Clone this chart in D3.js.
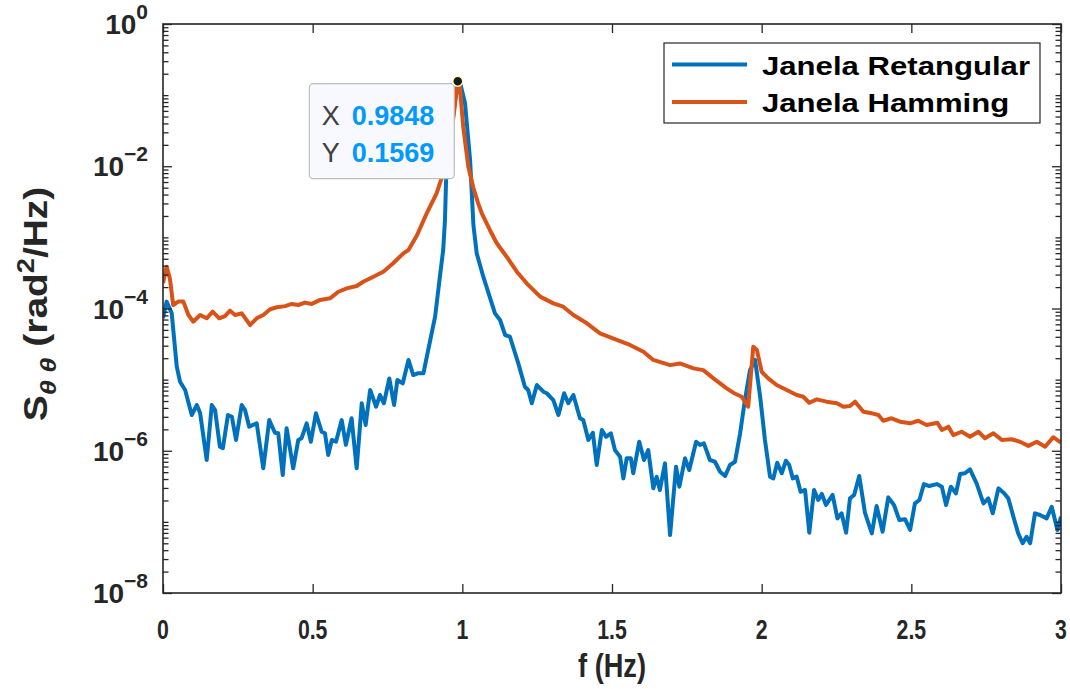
<!DOCTYPE html>
<html><head><meta charset="utf-8">
<script src="https://cdn.jsdelivr.net/npm/d3@7"></script>
<style>
body{margin:0;background:#fff;}
svg{display:block;}
text{font-family:"Liberation Sans",Arial,Helvetica,sans-serif;}
</style></head>
<body><svg id="chart" width="1070" height="689"></svg>
<script>
// ---------------- data ----------------
const freqRect = [0,0.012,0.029,0.046,0.057,0.074,0.096,0.113,0.124,0.146,
0.163,0.174,0.190,0.200,0.217,0.230,0.244,0.263,0.274,0.288,
0.313,0.335,0.355,0.374,0.385,0.400,0.413,0.435,0.452,0.463,
0.480,0.494,0.511,0.530,0.541,0.552,0.564,0.578,0.597,0.611,
0.630,0.647,0.664,0.677,0.692,0.712,0.725,0.738,0.756,0.772,
0.783,0.801,0.820,0.836,0.853,0.870,0.886,0.909,0.925,0.936,
0.942,0.946,0.965,0.981,0.992,1.009,1.026,1.037,1.048,1.070,
1.109,1.126,1.143,1.159,1.187,1.209,1.220,1.232,1.249,1.271,
1.282,1.304,1.321,1.340,1.354,1.371,1.393,1.404,1.421,1.436,
1.449,1.466,1.480,1.496,1.510,1.527,1.538,1.549,1.563,1.571,
1.591,1.607,1.621,1.638,1.649,1.660,1.677,1.694,1.714,1.725,
1.744,1.758,1.781,1.794,1.807,1.827,1.844,1.861,1.878,1.894,
1.911,1.928,1.944,1.961,1.978,1.995,2.011,2.028,2.039,2.052,
2.067,2.081,2.092,2.104,2.117,2.130,2.145,2.159,2.175,2.189,
2.201,2.215,2.237,2.253,2.267,2.282,2.295,2.309,2.326,2.345,
2.368,2.384,2.404,2.423,2.442,2.460,2.479,2.496,2.512,2.527,
2.542,2.560,2.585,2.602,2.616,2.632,2.649,2.663,2.679,2.696,
2.718,2.741,2.757,2.772,2.791,2.810,2.824,2.841,2.857,2.872,
2.885,2.897,2.913,2.930,2.952,2.969,2.988,3.000];

const psdRect = [7.35e-5,1.25e-4,8.65e-5,1.52e-5,9.35e-6,7.14e-6,3.18e-6,4.40e-6,3.40e-6,7.41e-7,
4.40e-6,3.74e-6,1.14e-6,1.09e-6,3.18e-6,3.01e-6,1.42e-6,4.40e-6,3.74e-6,2.18e-6,
2.43e-6,5.66e-7,2.70e-6,1.79e-6,1.76e-6,4.56e-7,2.07e-6,5.66e-7,1.42e-6,1.50e-6,
2.43e-6,1.34e-6,3.36e-6,1.85e-6,1.76e-6,8.71e-7,1.42e-6,1.34e-6,2.70e-6,1.21e-6,
2.86e-6,5.66e-7,4.65e-6,2.30e-6,7.14e-6,4.16e-6,6.08e-6,4.65e-6,1.04e-5,4.40e-6,
9.89e-6,8.87e-6,1.89e-5,1.16e-5,1.23e-5,1.23e-5,2.61e-5,7.67e-5,2.80e-4,6.64e-4,
1.75e-3,7.13e-3,3.60e-2,0.131,0.153,7.67e-2,1.22e-2,1.49e-3,5.97e-4,2.80e-4,
8.55e-5,6.89e-5,4.24e-5,4.01e-5,1.69e-5,7.94e-6,7.14e-6,4.65e-6,8.39e-6,6.76e-6,
6.43e-6,5.16e-6,3.18e-6,6.43e-6,4.65e-6,6.08e-6,2.86e-6,2.70e-6,1.42e-6,1.79e-6,
6.31e-7,1.96e-6,1.57e-6,1.76e-6,1.02e-6,8.24e-7,4.09e-7,7.83e-7,7.83e-7,4.82e-7,
1.34e-6,7.41e-7,1.02e-6,2.96e-7,4.32e-7,2.81e-7,6.65e-7,6.53e-8,5.97e-7,3.12e-7,
7.83e-7,5.36e-7,1.34e-6,1.21e-6,1.27e-6,7.41e-7,7.01e-7,5.07e-7,4.42e-7,6.31e-7,
7.01e-7,1.76e-6,5.16e-6,1.36e-5,1.89e-5,5.75e-6,1.42e-6,4.32e-7,4.09e-7,6.79e-7,
4.82e-7,7.24e-7,6.31e-7,4.09e-7,4.32e-7,2.65e-7,2.81e-7,7.05e-8,2.81e-7,2.03e-7,
2.47e-7,1.73e-7,2.39e-7,1.12e-7,1.32e-7,7.05e-8,2.14e-7,2.39e-7,4.42e-7,1.35e-7,
6.90e-8,1.67e-7,7.28e-8,2.21e-7,1.73e-7,1.06e-7,1.09e-7,7.69e-8,1.82e-7,2.03e-7,
3.40e-7,3.19e-7,3.40e-7,3.12e-7,1.73e-7,3.12e-7,2.52e-7,4.71e-7,4.82e-7,5.48e-7,
3.48e-7,1.82e-7,2.14e-7,1.32e-7,2.96e-7,2.52e-7,2.14e-7,1.18e-7,6.90e-8,5.00e-8,
6.18e-8,5.00e-8,1.32e-7,1.25e-7,1.12e-7,1.63e-7,7.69e-8,1.18e-7];

const freqHamm = [0,0.012,0.023,0.034,0.051,0.068,0.085,0.101,0.124,0.146,
0.166,0.188,0.207,0.224,0.241,0.263,0.291,0.313,0.335,0.358,
0.380,0.408,0.430,0.452,0.474,0.497,0.525,0.558,0.586,0.614,
0.647,0.669,0.703,0.736,0.769,0.803,0.820,0.849,0.881,0.914,
0.936,0.959,0.976,0.9848,0.992,1.003,1.020,1.037,1.053,1.065,
1.092,1.115,1.148,1.182,1.215,1.260,1.304,1.337,1.371,1.416,
1.460,1.516,1.560,1.605,1.638,1.694,1.727,1.772,1.805,1.839,
1.883,1.905,1.933,1.955,1.972,1.984,2.000,2.022,2.050,2.084,
2.117,2.139,2.159,2.184,2.217,2.251,2.273,2.295,2.312,2.326,
2.340,2.368,2.390,2.406,2.434,2.462,2.496,2.523,2.551,2.587,
2.602,2.624,2.640,2.668,2.696,2.724,2.746,2.774,2.802,2.835,
2.863,2.891,2.919,2.947,2.974,3.000];

const psdHamm = [2.28e-4,3.87e-4,2.65e-4,1.12e-4,1.25e-4,1.25e-4,8.11e-5,6.52e-5,8.11e-5,7.28e-5,
9.02e-5,7.28e-5,7.83e-5,9.31e-5,8.11e-5,8.55e-5,5.86e-5,7.28e-5,8.11e-5,9.75e-5,
1.04e-4,1.08e-4,1.16e-4,1.12e-4,1.21e-4,1.16e-4,1.32e-4,1.39e-4,1.72e-4,1.92e-4,
2.07e-4,2.38e-4,2.80e-4,3.29e-4,4.32e-4,5.97e-4,6.64e-4,1.08e-3,2.18e-3,4.17e-3,
7.96e-3,2.10e-2,7.67e-2,0.1569,0.126,3.60e-2,9.86e-3,4.94e-3,3.01e-3,2.18e-3,
1.27e-3,8.26e-4,5.35e-4,3.29e-4,2.26e-4,1.47e-4,1.18e-4,1.06e-4,8.11e-5,6.19e-5,
4.48e-5,3.61e-5,3.07e-5,2.47e-5,1.89e-5,1.60e-5,1.69e-5,1.44e-5,1.36e-5,1.04e-5,
7.55e-6,6.55e-6,5.75e-6,4.16e-6,2.90e-5,2.61e-5,1.29e-5,1.04e-5,8.39e-6,7.14e-6,
6.08e-6,5.75e-6,4.73e-6,5.28e-6,4.90e-6,4.65e-6,4.16e-6,4.26e-6,4.90e-6,4.16e-6,
3.54e-6,3.36e-6,3.18e-6,2.64e-6,2.86e-6,2.56e-6,2.43e-6,2.64e-6,2.30e-6,2.48e-6,
1.96e-6,2.18e-6,1.66e-6,1.85e-6,1.57e-6,1.85e-6,1.50e-6,1.76e-6,1.42e-6,1.45e-6,
1.34e-6,1.17e-6,1.34e-6,1.14e-6,1.55e-6,1.30e-6];

const xTicks = [0, 0.5, 1, 1.5, 2, 2.5, 3];
const xTickLabels = ["0", "0.5", "1", "1.5", "2", "2.5", "3"];
const yTickExponents = [0, -2, -4, -6, -8];
const seriesNames = ["Janela Retangular", "Janela Hamming"];
const seriesColors = ["#0072BD", "#D95319"];
const datatipX = 0.9848;
const datatipY = 0.1569;

// ---------------- layout ----------------
const svg = d3.select("#chart");
const L = 163, R = 1061, T = 24, B = 593;
const x = d3.scaleLinear().domain([0, 3]).range([L, R]);
const y = d3.scaleLog().domain([1e-8, 1]).range([B, T]);
const axisColor = "#262626";
const majorLen = 9, minorLen = 5.5;

const majorY = d3.range(-8, 1, 2).map(e => Math.pow(10, e));
const minorY = [];
for (let e = -8; e < 0; e++) for (let k = 2; k <= 10; k++) {
  const v = k * Math.pow(10, e);
  if (k === 10 && (e + 1) % 2 === 0) continue;
  minorY.push(v);
}

function styleAxis(g) {
  g.select(".domain").remove();
  g.selectAll(".tick line").attr("stroke", axisColor).attr("stroke-width", 1.3);
  g.selectAll(".tick text").remove();
}

// clip
svg.append("defs").append("clipPath").attr("id", "clip")
  .append("rect").attr("x", L).attr("y", T).attr("width", R - L).attr("height", B - T);

// lines
const line = d3.line().x(d => x(d[0])).y(d => y(d[1]));
const rectData = freqRect.map((f, i) => [f, psdRect[i]]);
const hammData = freqHamm.map((f, i) => [f, psdHamm[i]]);
const plot = svg.append("g").attr("clip-path", "url(#clip)");
plot.append("path").datum(rectData).attr("d", line).attr("fill", "none")
  .attr("stroke", seriesColors[0]).attr("stroke-width", 4).attr("stroke-linejoin", "round");
plot.append("path").datum(hammData).attr("d", line).attr("fill", "none")
  .attr("stroke", seriesColors[1]).attr("stroke-width", 4).attr("stroke-linejoin", "round");

// axes (ticks inward)
svg.append("g").attr("transform", `translate(${L},0)`)
  .call(d3.axisLeft(y).tickValues(majorY).tickSize(-majorLen)).call(styleAxis);
svg.append("g").attr("transform", `translate(${L},0)`)
  .call(d3.axisLeft(y).tickValues(minorY).tickSize(-minorLen)).call(styleAxis);
svg.append("g").attr("transform", `translate(${R},0)`)
  .call(d3.axisRight(y).tickValues(majorY).tickSize(-majorLen)).call(styleAxis);
svg.append("g").attr("transform", `translate(${R},0)`)
  .call(d3.axisRight(y).tickValues(minorY).tickSize(-minorLen)).call(styleAxis);
svg.append("g").attr("transform", `translate(0,${B})`)
  .call(d3.axisBottom(x).tickValues(xTicks).tickSize(-majorLen)).call(styleAxis);
svg.append("g").attr("transform", `translate(0,${T})`)
  .call(d3.axisTop(x).tickValues(xTicks).tickSize(-majorLen)).call(styleAxis);

svg.append("rect").attr("x", L).attr("y", T).attr("width", R - L).attr("height", B - T)
  .attr("fill", "none").attr("stroke", axisColor).attr("stroke-width", 1.6);

// x tick labels
xTicks.forEach((t, i) => {
  svg.append("text")
    .attr("transform", `translate(${x(t)},639) scale(0.76,1)`)
    .attr("text-anchor", "middle").attr("font-size", 28).attr("font-weight", "bold")
    .attr("fill", axisColor).text(xTickLabels[i]);
});

// y tick labels
yTickExponents.forEach(e => {
  const t = svg.append("text")
    .attr("transform", `translate(148,${y(Math.pow(10, e)) + 10})`)
    .attr("text-anchor", "end").attr("font-weight", "bold").attr("fill", axisColor);
  t.append("tspan").attr("font-size", 28).text("10");
  t.append("tspan").attr("font-size", 21).attr("dy", -15).text(e === 0 ? "0" : "\u2212" + Math.abs(e));
});

// axis titles
svg.append("text").attr("transform", "translate(612,677) scale(0.8,1)")
  .attr("text-anchor", "middle").attr("font-size", 34).attr("font-weight", "bold")
  .attr("fill", axisColor).text("f (Hz)");

const yl = svg.append("text").attr("transform", "translate(47,304) rotate(-90) scale(1.18,1)")
  .attr("text-anchor", "middle").attr("font-size", 33).attr("font-weight", "bold").attr("fill", axisColor);
yl.append("tspan").text("S");
yl.append("tspan").attr("font-size", 23).attr("font-style", "italic").attr("dy", 9).text("\u03B8 \u03B8");
yl.append("tspan").attr("dy", -9).text(" (rad");
yl.append("tspan").attr("font-size", 23).attr("dy", -13).text("2");
yl.append("tspan").attr("dy", 13).text("/Hz)");

// legend
const lg = svg.append("g");
lg.append("rect").attr("x", 664).attr("y", 43).attr("width", 376).attr("height", 80)
  .attr("fill", "#fff").attr("stroke", axisColor).attr("stroke-width", 1.2);
seriesNames.forEach((name, i) => {
  const cy = 64.5 + i * 37.5;
  lg.append("line").attr("x1", 672).attr("x2", 747).attr("y1", cy).attr("y2", cy)
    .attr("stroke", seriesColors[i]).attr("stroke-width", 4);
  lg.append("text").attr("transform", `translate(762,${cy + 10}) scale(1.245,1)`)
    .attr("font-size", 25).attr("font-weight", "bold").attr("fill", "#000").text(name);
});

// datatip
const mx = x(datatipX), my = y(datatipY);
const dt = svg.append("g");
dt.append("rect").attr("x", mx - 148.5).attr("y", my + 2.5).attr("width", 145).attr("height", 95)
  .attr("rx", 4).attr("fill", "#F8F8FF").attr("stroke", "#BDBDBD").attr("stroke-width", 1.2);
[["X", datatipX], ["Y", datatipY]].forEach((p, i) => {
  const by = my + 44 + i * 37;
  dt.append("text").attr("x", mx - 136).attr("y", by).attr("font-size", 27)
    .attr("fill", "#404040").text(p[0]);
  dt.append("text").attr("x", mx - 106).attr("y", by).attr("font-size", 27).attr("font-weight", "bold")
    .attr("fill", "#0099FF").text(d3.format(".4f")(p[1]));
});
dt.append("circle").attr("cx", mx).attr("cy", my).attr("r", 5)
  .attr("fill", "#1a1a1a").attr("stroke", "#FFFFC8").attr("stroke-width", 1.5);
</script>
</body></html>
